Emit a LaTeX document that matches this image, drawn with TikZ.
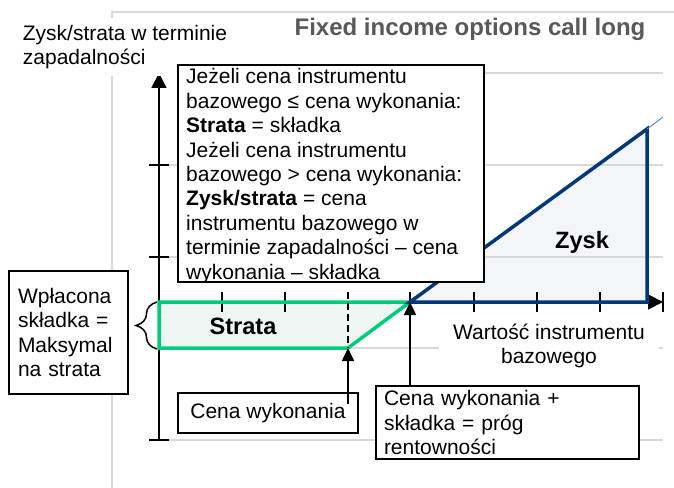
\documentclass[tikz,border=0pt]{standalone}
\usepackage{fontspec}
\setmainfont{Liberation Sans}
\usetikzlibrary{arrows.meta,decorations.pathreplacing,calc}
\definecolor{gridc}{RGB}{217,217,217}
\definecolor{greenc}{RGB}{0,204,122}
\definecolor{greenf}{RGB}{238,247,243}
\definecolor{bluec}{RGB}{0,56,120}
\definecolor{bluef}{RGB}{243,245,248}
\definecolor{bluet}{RGB}{80,130,200}
\definecolor{titlec}{RGB}{89,89,89}
\begin{document}
\begin{tikzpicture}[x=1bp,y=-1bp,
  every node/.style={font=\fontsize{21bp}{24.4bp}\selectfont, text=black},
  boldtxt/.style={font=\fontsize{23.6bp}{28bp}\selectfont\bfseries},
  box/.style={draw=black, line width=1.6bp, fill=white, outer sep=0pt},
  gridline/.style={draw=gridc, line width=1.2bp},
  axisline/.style={draw=black, line width=1.8bp},
  tickmark/.style={draw=black, line width=1.8bp},
  axtip/.style={-{Triangle[length=15bp,width=15bp]}},
  arr/.style={draw=black, line width=1.6bp, -{Triangle[length=13bp,width=12bp]}},
  payoffgreen/.style={draw=greenc, line width=3.5bp, line join=miter},
  payoffblue/.style={draw=bluec, line width=3.5bp, line join=miter},
]
\useasboundingbox (0,0) rectangle (674,488);

% key points
\coordinate (O) at (159,302);
\coordinate (ytop) at (159,73);
\coordinate (ybot) at (159,440);
\coordinate (xend) at (663,302);
\coordinate (k) at (348,348);
\coordinate (kaxis) at (348,302);
\coordinate (be) at (410,302);
\coordinate (apex) at (647,129);
\coordinate (apexbase) at (647,302);
\coordinate (ext) at (663,117);
\coordinate (lossbase) at (159,348);

% chart frame
\draw[gridline] (112,488) -- (112,12) -- (674,12);

% fills
\fill[greenf] (O) -- (be) -- (k) -- (lossbase) -- cycle;
\fill[bluef] (be) -- (apex) -- (apexbase) -- cycle;

% gridlines
\foreach \yy in {73,165,257,348,440} {
  \draw[gridline] (159,\yy) -- (663,\yy);
}

% x-axis label
\node[fill=white, align=center, inner xsep=14bp, inner ysep=2bp] (xlabel) at (549,346)
  {Wartość instrumentu\\bazowego};

% axes
\draw[axisline, axtip] (ybot) -- (ytop);
\draw[axisline, axtip] (O) -- (xend);
\draw[tickmark] (149,73) -- (169,73);
\draw[tickmark] (149,440) -- (169,440);
\draw[tickmark] (663,292) -- (663,312);
\foreach \yy in {165,257} {
  \draw[tickmark] (149,\yy) -- (169,\yy);
}
\foreach \xx in {222,285,410,474,537,600} {
  \draw[tickmark] (\xx,292) -- (\xx,312);
}

% payoff shapes
\draw[payoffgreen] (be) -- (O) -- (lossbase) -- (k) -- cycle;
\draw[payoffblue] (be) -- (apex) -- (apexbase) -- cycle;
\draw[bluet, line width=0.9bp] (apex) -- (ext);
\draw[black, line width=1.8bp, dash pattern=on 7bp off 4bp] (348,292) -- (k);

\node[boldtxt] (strata) at (243,326) {Strata};
\node[boldtxt] (zysk) at (582,242) {Zysk};

% title and y-axis title
\node[anchor=base, font=\fontsize{24bp}{28bp}\selectfont\bfseries, text=titlec] (title) at (470,36)
  {Fixed income options call long};
\node[anchor=north west, align=left, fill=white, inner xsep=4bp, inner ysep=7bp] (ytitle) at (18.7,17.7)
  {Zysk/strata w terminie\\zapadalności};

% condition box
\node[box, anchor=north west, minimum width=306bp, minimum height=217bp, inner sep=0pt] (cond) at (178,65) {};
\begin{scope}
  \clip (cond.north west) rectangle (cond.south east);
  \node[anchor=north west, align=left, inner sep=0pt] (condtxt) at (186,68.5)
    {Jeżeli cena instrumentu\\
     bazowego ≤ cena wykonania:\\
     \textbf{Strata} = składka\\
     Jeżeli cena instrumentu\\
     bazowego > cena wykonania:\\
     \textbf{Zysk/strata} = cena\\
     instrumentu bazowego w\\
     terminie zapadalności – cena\\
     wykonania – składka};
\end{scope}
\draw[line width=1.6bp] (cond.north west) rectangle (cond.south east);

% premium box and brace
\node[box, anchor=north west, minimum width=119bp, minimum height=123bp, text width=101bp,
      align=left, inner sep=0pt] (prem) at (9,271)
  {Wpłacona\\składka =\\Maksymal\\na strata};
\draw[black, line width=1.5bp, decorate, decoration={brace, amplitude=21bp}]
  (157,349) -- (157,302);

% strike box
\node[box, anchor=north west, minimum width=180bp, minimum height=40bp, inner sep=0pt] (cw) at (178,393)
  {Cena wykonania};
\draw[arr] ($(cw.north -| k)+(0,11)$) -- (k);

% break-even box
\node[box, anchor=north west, minimum width=263bp, minimum height=73bp, text width=247bp,
      align=left, inner sep=0pt] (bebox) at (376,386)
  {Cena wykonania +\\składka = próg\\rentowności};
\draw[arr] (bebox.north -| be) -- (be);
\end{tikzpicture}
\end{document}
